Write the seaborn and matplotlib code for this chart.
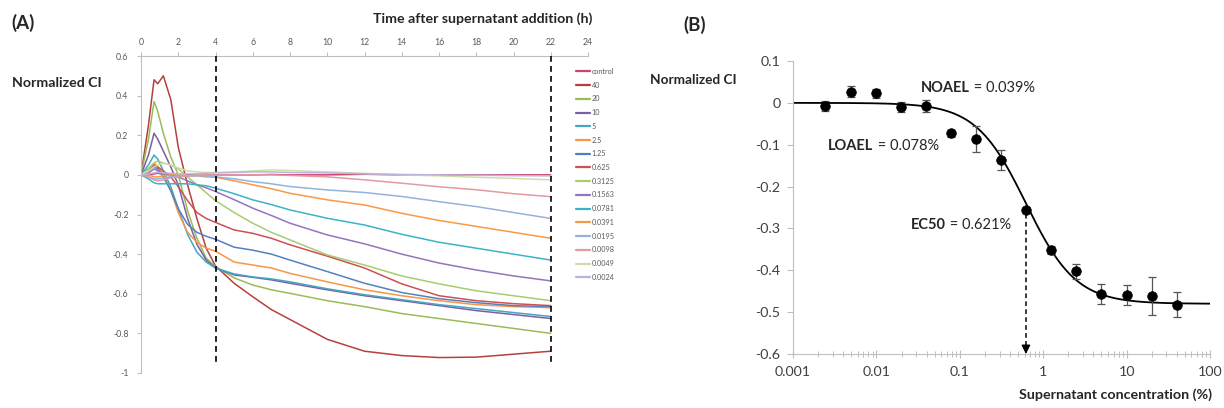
import numpy as np
import pandas as pd
import matplotlib
matplotlib.use("Agg")
import matplotlib.pyplot as plt
from matplotlib.lines import Line2D
import seaborn as sns

# ---------------- Panel A: real-time impedance curves ----------------
TIME_H = [0, 0.4, 0.7, 0.9, 1.2, 1.6, 2.0, 2.5, 3.0, 3.5, 4, 5, 6, 7, 8, 10, 12, 14, 16, 18, 20, 22]

SERIES_LABELS = ["control", "40", "20", "10", "5", "2.5", "1.25", "0.625", "0.3125",
                 "0.1563", "0.0781", "0.0391", "0.0195", "0.0098", "0.0049", "0.0024"]

ci_control = [0, 0, 0.005, 0.008, 0.004, 0, -0.004, 0, 0, 0, 0, 0, 0, 0.002, 0, 0, 0.003, 0, 0, 0, 0, 0]
ci_40 = [0, 0.25, 0.48, 0.46, 0.50, 0.38, 0.14, -0.05, -0.22, -0.37, -0.46, -0.547, -0.615, -0.68,
         -0.73, -0.83, -0.89, -0.912, -0.922, -0.92, -0.905, -0.89]
ci_20 = [0, 0.18, 0.37, 0.32, 0.21, 0.09, 0.0, -0.18, -0.32, -0.42, -0.463, -0.52, -0.556, -0.58,
         -0.598, -0.635, -0.665, -0.70, -0.725, -0.75, -0.775, -0.80]
ci_10 = [0, 0.10, 0.21, 0.18, 0.12, 0.04, -0.05, -0.22, -0.35, -0.43, -0.47, -0.505, -0.517, -0.53,
         -0.547, -0.58, -0.61, -0.635, -0.66, -0.685, -0.705, -0.725]
ci_5 = [0, 0.05, 0.10, 0.08, 0.02, -0.06, -0.17, -0.30, -0.39, -0.44, -0.47, -0.50, -0.515, -0.525,
        -0.54, -0.575, -0.605, -0.63, -0.655, -0.675, -0.695, -0.715]
ci_2_5 = [0, 0.03, 0.06, 0.04, 0.0, -0.08, -0.19, -0.29, -0.34, -0.37, -0.385, -0.44, -0.455, -0.47,
          -0.497, -0.54, -0.58, -0.61, -0.635, -0.655, -0.665, -0.67]
ci_1_25 = [0, 0.02, 0.04, 0.03, -0.01, -0.08, -0.17, -0.25, -0.29, -0.31, -0.325, -0.365, -0.38, -0.40,
           -0.43, -0.488, -0.547, -0.594, -0.625, -0.645, -0.66, -0.665]
ci_0_625 = [0, 0.03, 0.05, 0.04, 0.02, -0.01, -0.06, -0.13, -0.19, -0.22, -0.24, -0.278, -0.295, -0.32,
            -0.353, -0.41, -0.47, -0.55, -0.61, -0.635, -0.65, -0.66]
ci_0_3125 = [0, 0.03, 0.06, 0.07, 0.06, 0.05, 0.03, -0.01, -0.05, -0.09, -0.13, -0.19, -0.244, -0.29,
             -0.328, -0.404, -0.455, -0.51, -0.55, -0.585, -0.61, -0.635]
ci_0_1563 = [0, 0.01, 0.03, 0.02, 0.01, 0.0, -0.01, -0.03, -0.05, -0.065, -0.084, -0.125, -0.168, -0.205,
             -0.244, -0.303, -0.348, -0.40, -0.445, -0.48, -0.51, -0.535]
ci_0_0781 = [0, -0.02, -0.04, -0.045, -0.045, -0.045, -0.045, -0.045, -0.05, -0.055, -0.067, -0.095,
             -0.126, -0.15, -0.177, -0.219, -0.253, -0.30, -0.34, -0.37, -0.40, -0.43]
ci_0_0391 = [0, 0.0, -0.01, -0.01, -0.005, 0.0, 0.0, -0.005, -0.005, -0.01, -0.012, -0.03, -0.05, -0.07,
             -0.093, -0.126, -0.152, -0.194, -0.23, -0.26, -0.29, -0.32]
ci_0_0195 = [0, -0.01, -0.02, -0.02, -0.015, -0.01, -0.005, -0.005, -0.005, -0.005, -0.01, -0.02, -0.034,
             -0.045, -0.059, -0.076, -0.089, -0.109, -0.135, -0.16, -0.19, -0.22]
ci_0_0098 = [0, -0.01, -0.025, -0.03, -0.025, -0.015, -0.01, -0.005, 0, 0, 0, 0, 0, 0, -0.003, -0.01,
             -0.025, -0.042, -0.06, -0.075, -0.095, -0.11]
ci_0_0049 = [0, 0.02, 0.04, 0.05, 0.06, 0.05, 0.035, 0.02, 0.015, 0.012, 0.012, 0.015, 0.02, 0.025,
             0.022, 0.015, 0.008, 0.0, -0.005, -0.012, -0.018, -0.025]
ci_0_0024 = [0, 0.005, 0.01, 0.012, 0.01, 0.008, 0.005, 0.005, 0.005, 0.008, 0.01, 0.012, 0.015, 0.015,
             0.012, 0.01, 0.005, 0.002, 0, -0.002, -0.004, -0.005]

SERIES_VALUES = [ci_control, ci_40, ci_20, ci_10, ci_5, ci_2_5, ci_1_25, ci_0_625, ci_0_3125,
                 ci_0_1563, ci_0_0781, ci_0_0391, ci_0_0195, ci_0_0098, ci_0_0049, ci_0_0024]

SERIES_COLORS = ["#cc3f77", "#b5413f", "#9bbb59", "#7a5fa3", "#44a6c2", "#f79646", "#5580c0",
                 "#cc5055", "#a9cc6f", "#9573bf", "#3bb3c8", "#f89a45", "#93b3df", "#e39aa3",
                 "#cddfa6", "#bbb3da"]

MARKER_TIMES_H = [4, 22]

# ---------------- Panel B: dose-response at 4 h ----------------
CONC_PCT = [0.0024, 0.0049, 0.0098, 0.0195, 0.0391, 0.0781, 0.1563, 0.3125, 0.625, 1.25, 2.5, 5, 10, 20, 40]
CI_MEAN = [-0.007, 0.027, 0.023, -0.011, -0.007, -0.073, -0.086, -0.136, -0.255, -0.352, -0.402,
           -0.456, -0.460, -0.461, -0.482]
CI_ERR = [0.012, 0.014, 0.011, 0.012, 0.015, 0.008, 0.031, 0.024, 0.004, 0.010, 0.018, 0.024,
          0.024, 0.046, 0.030]

FIT_TOP = 0.0
FIT_BOTTOM = -0.48
FIT_HILL = 1.45
EC50 = 0.621
NOAEL = 0.039
LOAEL = 0.078

# ---------------- style ----------------
sns.set_style("white")
plt.rcParams["font.family"] = ["Lato", "DejaVu Sans"]
TICK_GRAY = "#595959"
SPINE_GRAY = "#bfbfbf"

fig = plt.figure(figsize=(12.24, 4.08), dpi=100)
W, H = 1224, 408

axA = fig.add_axes([141 / W, 35 / H, 447 / W, 317 / H])
axB = fig.add_axes([793 / W, 54 / H, 417 / W, 293 / H])

# ---- panel A ----
frames = []
for lab, vals in zip(SERIES_LABELS, SERIES_VALUES):
    frames.append(pd.DataFrame({"time": TIME_H, "ci": vals, "series": lab}))
df_a = pd.concat(frames, ignore_index=True)
palette = dict(zip(SERIES_LABELS, SERIES_COLORS))

sns.lineplot(data=df_a, x="time", y="ci", hue="series", hue_order=SERIES_LABELS,
             palette=palette, estimator=None, sort=False, linewidth=1.1,
             legend=False, ax=axA)

for tm in MARKER_TIMES_H:
    axA.plot([tm, tm], [0.6, -0.965], color="black", lw=1.2,
             linestyle=(0, (3.5, 2.5)), zorder=5)

axA.set_xlim(0, 24)
axA.set_ylim(-1, 0.6)
axA.xaxis.tick_top()
axA.set_xticks(np.arange(0, 25, 2))
axA.set_yticks(np.round(np.arange(-1, 0.61, 0.2), 1))
axA.set_yticklabels(["-1", "-0.8", "-0.6", "-0.4", "-0.2", "0", "0.2", "0.4", "0.6"])
axA.tick_params(axis="both", labelsize=6.3, colors=SPINE_GRAY, labelcolor=TICK_GRAY,
                length=3, width=0.8, pad=6)
axA.tick_params(axis="x", top=True, bottom=False, direction="out", pad=3.5)
axA.tick_params(axis="y", left=True, direction="out")
axA.set_xlabel("")
axA.set_ylabel("")
for side in ["right", "bottom"]:
    axA.spines[side].set_visible(False)
for side in ["top", "left"]:
    axA.spines[side].set_color(SPINE_GRAY)
    axA.spines[side].set_linewidth(0.8)

handles = [Line2D([0], [0], color=c, lw=1.6) for c in SERIES_COLORS]
leg = fig.legend(handles, SERIES_LABELS, loc="upper left",
                 bbox_to_anchor=(576 / W, 1 - 68 / H), frameon=False,
                 fontsize=5.2, handlelength=2.0, handletextpad=0.2,
                 labelspacing=0.93, borderpad=0, borderaxespad=0)
for t in leg.get_texts():
    t.set_color(TICK_GRAY)

fig.text(11 / W, 1 - 23 / H, "(A)", fontsize=13.5, fontweight="bold", va="center", ha="left")
fig.text(592 / W, 1 - 19 / H, "Time after supernatant addition (h)", fontsize=10.2,
         fontweight="bold", va="center", ha="right", color="#262626")
fig.text(12 / W, 1 - 83 / H, "Normalized CI", fontsize=10.2, fontweight="bold",
         va="center", ha="left", color="#262626")

# ---- panel B ----
xfit = np.logspace(-3, 2, 400)
yfit = FIT_BOTTOM + (FIT_TOP - FIT_BOTTOM) / (1 + (xfit / EC50) ** FIT_HILL)
sns.lineplot(x=xfit, y=yfit, color="black", linewidth=1.3, ax=axB, zorder=2)

axB.errorbar(CONC_PCT, CI_MEAN, yerr=CI_ERR, fmt="none", ecolor="#555555",
             elinewidth=0.9, capsize=3, capthick=0.9, zorder=3)
sns.scatterplot(x=CONC_PCT, y=CI_MEAN, color="black", s=48, edgecolor="black",
                linewidth=0.5, ax=axB, zorder=4)

# dashed drop line at EC50
fit_at_ec50 = FIT_BOTTOM + (FIT_TOP - FIT_BOTTOM) / 2
axB.plot([EC50, EC50], [fit_at_ec50 - 0.025, -0.583], color="black", lw=1.1,
         linestyle=(0, (3, 2.2)), zorder=3)
axB.annotate("", xy=(EC50, -0.6), xytext=(EC50, -0.582),
             arrowprops=dict(arrowstyle="-|>", color="black", lw=1, mutation_scale=13,
                             shrinkA=0, shrinkB=0), zorder=5)

axB.set_xscale("log")
axB.set_xlim(0.001, 100)
axB.set_ylim(-0.6, 0.1)
axB.set_xticks([0.001, 0.01, 0.1, 1, 10, 100])
axB.set_xticklabels(["0.001", "0.01", "0.1", "1", "10", "100"])
axB.set_yticks(np.round(np.arange(-0.6, 0.11, 0.1), 1))
axB.set_yticklabels(["-0.6", "-0.5", "-0.4", "-0.3", "-0.2", "-0.1", "0", "0.1"])
axB.tick_params(axis="both", which="major", labelsize=10.3, colors=SPINE_GRAY,
                labelcolor="#404040", length=4, width=0.8)
axB.tick_params(axis="x", which="major", direction="inout", length=6, pad=6)
axB.tick_params(axis="x", which="minor", direction="inout", length=4, width=0.7,
                colors=SPINE_GRAY, bottom=True)
axB.tick_params(axis="y", direction="out", left=True, pad=5)
axB.tick_params(axis="x", bottom=True)
axB.set_xlabel("")
axB.set_ylabel("")
for side in ["right", "top"]:
    axB.spines[side].set_visible(False)
for side in ["left", "bottom"]:
    axB.spines[side].set_color(SPINE_GRAY)
    axB.spines[side].set_linewidth(0.8)


def bold_label(ax, x, y, head, tail):
    t1 = ax.text(x, y, head, fontsize=10.5, fontweight="bold", va="center", ha="left",
                 color="#262626")
    ax.annotate(tail, xy=(1, 0.5), xycoords=t1, va="center", ha="left",
                fontsize=10.5, color="#262626")


bold_label(axB, 0.034, 0.036, "NOAEL", f" = {NOAEL}%")
bold_label(axB, 0.00265, -0.102, "LOAEL", f" = {LOAEL}%")
bold_label(axB, 0.0258, -0.293, "EC50", f" = {EC50}%")

fig.text(683 / W, 1 - 25 / H, "(B)", fontsize=13.5, fontweight="bold", va="center", ha="left")
fig.text(650 / W, 1 - 80 / H, "Normalized CI", fontsize=9.8, fontweight="bold",
         va="center", ha="left", color="#262626")
fig.text(1212 / W, 1 - 395 / H, "Supernatant concentration (%)", fontsize=10.3,
         fontweight="bold", va="center", ha="right", color="#262626")

fig.savefig("out.png", dpi=100)
